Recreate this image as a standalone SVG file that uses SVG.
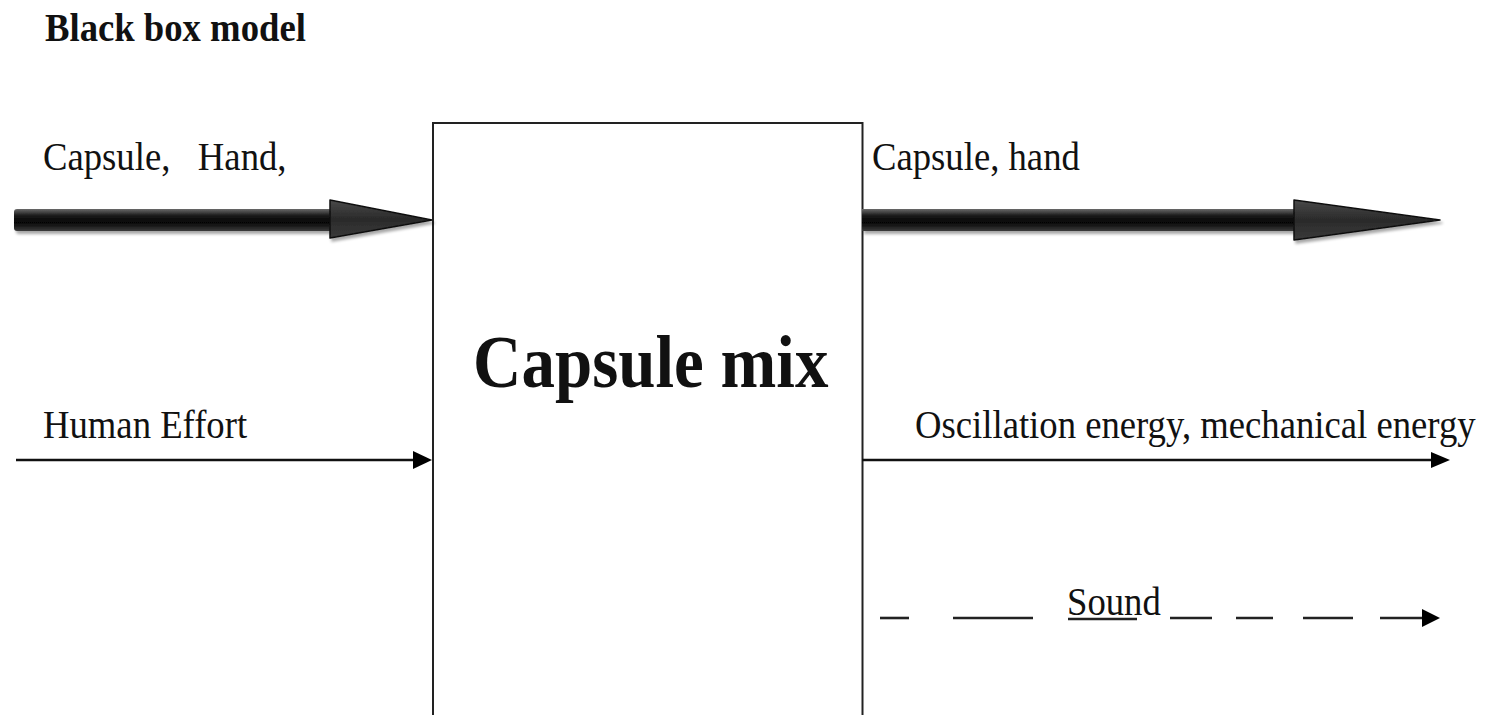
<svg xmlns="http://www.w3.org/2000/svg" width="1491" height="715" viewBox="0 0 1491 715">
<defs>
<linearGradient id="shaft" x1="0" y1="0" x2="0" y2="1">
<stop offset="0" stop-color="#6a6a6a"/>
<stop offset="0.3" stop-color="#1a1a1a"/>
<stop offset="0.6" stop-color="#050505"/>
<stop offset="1" stop-color="#3a3a3a"/>
</linearGradient>
<linearGradient id="head" x1="0" y1="0" x2="0" y2="1">
<stop offset="0" stop-color="#4a4a4a"/>
<stop offset="0.5" stop-color="#2a2a2a"/>
<stop offset="1" stop-color="#3a3a3a"/>
</linearGradient>
<filter id="shadow" x="-5%" y="-50%" width="110%" height="200%">
<feGaussianBlur in="SourceAlpha" stdDeviation="1.5"/>
<feOffset dx="2" dy="3" result="b"/>
<feComponentTransfer><feFuncA type="linear" slope="0.35"/></feComponentTransfer>
<feMerge><feMergeNode/><feMergeNode in="SourceGraphic"/></feMerge>
</filter>
<marker id="tri" markerWidth="10" markerHeight="10" refX="9" refY="5" orient="auto" markerUnits="userSpaceOnUse" viewBox="0 0 10 10">
<path d="M0,0 L10,5 L0,10 Z" fill="#000"/>
</marker>
</defs>
<style>
text{font-family:"Liberation Serif","Times New Roman",serif;fill:#111;}
.lbl{font-size:36.7px;}
.b{font-weight:bold;}
.thin{stroke:#111;stroke-width:2.4;fill:none;}
.dash{stroke:#222;stroke-width:2.6;fill:none;}
.box{fill:#fff;stroke:#222;stroke-width:2;}
.ah{fill:#000;}
</style>
<rect width="1491" height="715" fill="#fff"/>

<g id="title">
<text class="lbl b" transform="translate(45,41) scale(1,1.1)">Black box model</text>
</g>

<g id="capsule-mix">
<rect class="box" x="433" y="123" width="429.5" height="600"/>
<text class="b" font-size="67" transform="translate(473,387) scale(1,1.12)">Capsule mix</text>
</g>

<g id="connectors">
<g id="in-material" filter="url(#shadow)">
<rect x="14" y="209" width="318" height="22" rx="3" fill="url(#shaft)"/>
<path d="M330,200 L432,220 L330,238 Z" fill="url(#head)" stroke="#111" stroke-width="1.5" stroke-linejoin="round"/>
</g>
<g id="out-material" filter="url(#shadow)">
<rect x="862" y="209" width="434" height="22" fill="url(#shaft)"/>
<path d="M1294,200 L1440,220 L1294,240 Z" fill="url(#head)" stroke="#111" stroke-width="1.5" stroke-linejoin="round"/>
</g>
<g id="in-energy">
<line class="thin" x1="16" y1="460" x2="415" y2="460"/>
<path class="ah" d="M413,451 L432,460 L413,469 Z"/>
</g>
<g id="out-energy">
<line class="thin" x1="862" y1="460" x2="1433" y2="460"/>
<path class="ah" d="M1431,452 L1450,460 L1431,468 Z"/>
</g>
<g id="out-signal">
<line class="dash" x1="880" y1="618" x2="909" y2="618"/>
<line class="dash" x1="953" y1="618" x2="1033" y2="618"/>
<line class="dash" x1="1068" y1="619" x2="1137" y2="619" stroke-width="2"/>
<line class="dash" x1="1170" y1="618" x2="1212" y2="618"/>
<line class="dash" x1="1236" y1="618" x2="1273" y2="618"/>
<line class="dash" x1="1303" y1="618" x2="1353" y2="618"/>
<line class="dash" x1="1380" y1="618" x2="1424" y2="618"/>
<path class="ah" d="M1422,609 L1440,618 L1422,627 Z"/>
</g>
</g>

<g id="labels">
<text class="lbl" transform="translate(43,170) scale(1,1.1)" xml:space="preserve">Capsule,   Hand,</text>
<text class="lbl" transform="translate(872,170) scale(1,1.1)">Capsule, hand</text>
<text class="lbl" transform="translate(43,438) scale(1,1.1)">Human Effort</text>
<text class="lbl" transform="translate(915,438) scale(1,1.1)">Oscillation energy, mechanical energy</text>
<text class="lbl" transform="translate(1067,615) scale(1,1.1)">Sound</text>
</g>
</svg>
